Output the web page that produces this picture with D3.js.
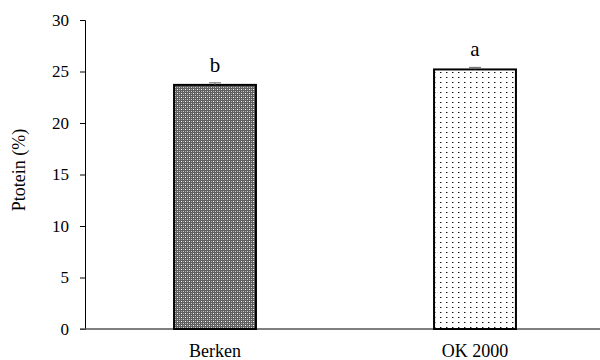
<!DOCTYPE html>
<html><head><meta charset="utf-8">
<script src="https://cdn.jsdelivr.net/npm/d3@7"></script>
<style>body{margin:0;background:#fff}svg{display:block}</style>
</head><body>
<script>
const categories = ["Berken", "OK 2000"];
const values = [23.7, 25.2];
const errors = [0.2, 0.2];
const letters = ["b", "a"];
const yTicks = [0, 5, 10, 15, 20, 25, 30];

const FONT = "'Liberation Serif', 'Times New Roman', Times, serif";
const W = 600, H = 360;
const svg = d3.select("body").append("svg").attr("width", W).attr("height", H);
const defs = svg.append("defs");

// dark checked pattern
const p1 = defs.append("pattern").attr("id", "pat1").attr("patternUnits", "userSpaceOnUse")
  .attr("width", 4).attr("height", 4);
p1.append("rect").attr("width", 4).attr("height", 4).attr("fill", "#5e5e5e");
p1.append("rect").attr("x", 1).attr("y", 1).attr("width", 1).attr("height", 1).attr("fill", "#fff");
p1.append("rect").attr("x", 3).attr("y", 3).attr("width", 1).attr("height", 1).attr("fill", "#d0d0d0");
p1.append("rect").attr("x", 1).attr("y", 3).attr("width", 1).attr("height", 1).attr("fill", "#a8a8a8");
p1.append("rect").attr("x", 3).attr("y", 1).attr("width", 1).attr("height", 1).attr("fill", "#a8a8a8");

// sparse dots pattern
const p2 = defs.append("pattern").attr("id", "pat2").attr("patternUnits", "userSpaceOnUse")
  .attr("width", 6).attr("height", 5);
p2.append("rect").attr("width", 6).attr("height", 5).attr("fill", "#fff");
p2.append("rect").attr("x", 2).attr("y", 2).attr("width", 1).attr("height", 1).attr("fill", "#111");
p2.append("rect").attr("x", 3).attr("y", 2).attr("width", 1).attr("height", 1).attr("fill", "#999");

const patterns = ["url(#pat1)", "url(#pat2)"];

const y = d3.scaleLinear().domain([0, 30]).range([329, 20]);
const x = d3.scaleBand().domain(categories).range([85, 605]).paddingInner(0.685).paddingOuter(0.3425);

// y axis
const yAxis = svg.append("g").attr("transform", "translate(85,0)")
  .call(d3.axisLeft(y).tickValues(yTicks).tickSize(5).tickPadding(11).tickFormat(d3.format("d")));
yAxis.attr("font-family", FONT).attr("font-size", 17);
yAxis.select(".domain").attr("stroke", "#000");
yAxis.selectAll(".tick line").attr("stroke", "#000");
yAxis.selectAll("text").style("font-family", FONT).style("font-size", "17px").attr("fill", "#000");

// x axis line
svg.append("line").attr("x1", 80).attr("x2", 600).attr("y1", y(0)).attr("y2", y(0))
  .attr("stroke", "#555").attr("stroke-width", 1.3);

// bars
svg.selectAll("rect.bar").data(categories).enter().append("rect")
  .attr("class", "bar")
  .attr("x", d => x(d))
  .attr("y", (d, i) => y(values[i]))
  .attr("width", x.bandwidth())
  .attr("height", (d, i) => y(0) - y(values[i]))
  .attr("fill", (d, i) => patterns[i])
  .attr("stroke", "#000").attr("stroke-width", 2);

// error bars
categories.forEach((c, i) => {
  const cx = x(c) + x.bandwidth() / 2;
  const g = svg.append("g").attr("stroke", "#666").attr("stroke-width", 1);
  g.append("line").attr("x1", cx).attr("x2", cx).attr("y1", y(values[i] + errors[i])).attr("y2", y(values[i]));
  g.append("line").attr("x1", cx - 6).attr("x2", cx + 6).attr("y1", y(values[i] + errors[i])).attr("y2", y(values[i] + errors[i]));
});

// letters
svg.selectAll("text.letter").data(categories).enter().append("text")
  .attr("class", "letter")
  .attr("x", d => x(d) + x.bandwidth() / 2)
  .attr("y", (d, i) => y(values[i]) - 13)
  .attr("text-anchor", "middle")
  .style("font-family", FONT).style("font-size", "21px").attr("fill", "#000")
  .text((d, i) => letters[i]);

// category labels
svg.selectAll("text.cat").data(categories).enter().append("text")
  .attr("class", "cat")
  .attr("x", d => x(d) + x.bandwidth() / 2)
  .attr("y", 357)
  .attr("text-anchor", "middle")
  .style("font-family", FONT).style("font-size", "18px").attr("fill", "#000")
  .text(d => d);

// y label
svg.append("text")
  .attr("transform", "translate(25,170) rotate(-90)")
  .attr("text-anchor", "middle")
  .style("font-family", FONT).style("font-size", "18px").attr("fill", "#000")
  .text("Ptotein (%)");
</script>
</body></html>
